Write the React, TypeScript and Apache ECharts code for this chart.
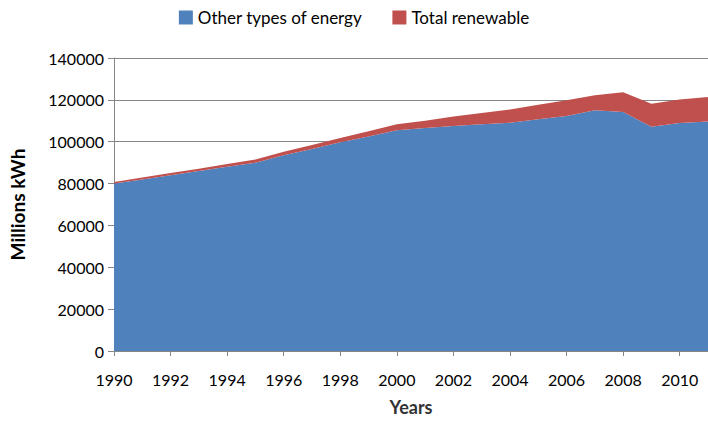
import React, { useEffect, useRef } from "react";
import * as echarts from "echarts";

const years = ["1990","1991","1992","1993","1994","1995","1996","1997","1998","1999","2000","2001","2002","2003","2004","2005","2006","2007","2008","2009","2010","2011"];
const otherEnergy = [80000, 82000, 84000, 86000, 88000, 90000, 93500, 96500, 99700, 102500, 105500, 106500, 107500, 108300, 109100, 110700, 112300, 115000, 114200, 107200, 109000, 109600];
const renewable = [800, 900, 1000, 1100, 1300, 1500, 1700, 1900, 2100, 2500, 2800, 3500, 4500, 5400, 6300, 7000, 7500, 7200, 9400, 10900, 11200, 11800];

const FONT = "Lato";

export default function App() {
  const ref = useRef<HTMLDivElement>(null);
  useEffect(() => {
    if (!ref.current) return;
    const chart = echarts.init(ref.current, null, { renderer: "svg" });
    chart.setOption({
      animation: false,
      textStyle: { fontFamily: FONT },
      legend: {
        top: 4,
        left: "center",
        itemWidth: 14,
        itemHeight: 14,
        itemGap: 30,
        icon: "rect",
        textStyle: { fontSize: 17, color: "#000", fontFamily: FONT },
        data: ["Other types of energy", "Total renewable"],
      },
      grid: { left: 112, right: 0, top: 58, bottom: 67 },
      xAxis: {
        type: "category",
        data: years,
        boundaryGap: false,
        name: "Years",
        nameLocation: "middle",
        nameGap: 47,
        nameTextStyle: { fontSize: 18, fontWeight: "bold", color: "#333", fontFamily: FONT },
        axisLine: { lineStyle: { color: "#868686" } },
        axisTick: { interval: 1, length: 5, lineStyle: { color: "#868686" } },
        axisLabel: { interval: 1, fontSize: 16, color: "#000", margin: 20, fontFamily: FONT },
        splitLine: { show: false },
      },
      yAxis: {
        type: "value",
        min: 0,
        max: 140000,
        interval: 20000,
        name: "Millions kWh",
        nameLocation: "middle",
        nameGap: 87,
        nameTextStyle: { fontSize: 19, fontWeight: "bold", color: "#000", fontFamily: FONT },
        axisLine: { show: true, lineStyle: { color: "#868686" } },
        axisTick: { show: true, length: 6, lineStyle: { color: "#868686" } },
        axisLabel: { fontSize: 16, color: "#000", margin: 10, fontFamily: FONT, formatter: (v: number) => String(v) },
        splitLine: { show: true, lineStyle: { color: "#868686" } },
      },
      series: [
        {
          name: "Other types of energy",
          type: "line",
          stack: "total",
          data: otherEnergy,
          symbol: "none",
          lineStyle: { width: 0 },
          itemStyle: { color: "#4F81BD" },
          areaStyle: { color: "#4F81BD", opacity: 1 },
        },
        {
          name: "Total renewable",
          type: "line",
          stack: "total",
          data: renewable,
          symbol: "none",
          lineStyle: { width: 0 },
          itemStyle: { color: "#C0504D" },
          areaStyle: { color: "#C0504D", opacity: 1 },
        },
      ],
    });
    return () => chart.dispose();
  }, []);
  return <div ref={ref} style={{ width: 708, height: 421, position: "absolute", left: 0, top: 0 }} />;
}
